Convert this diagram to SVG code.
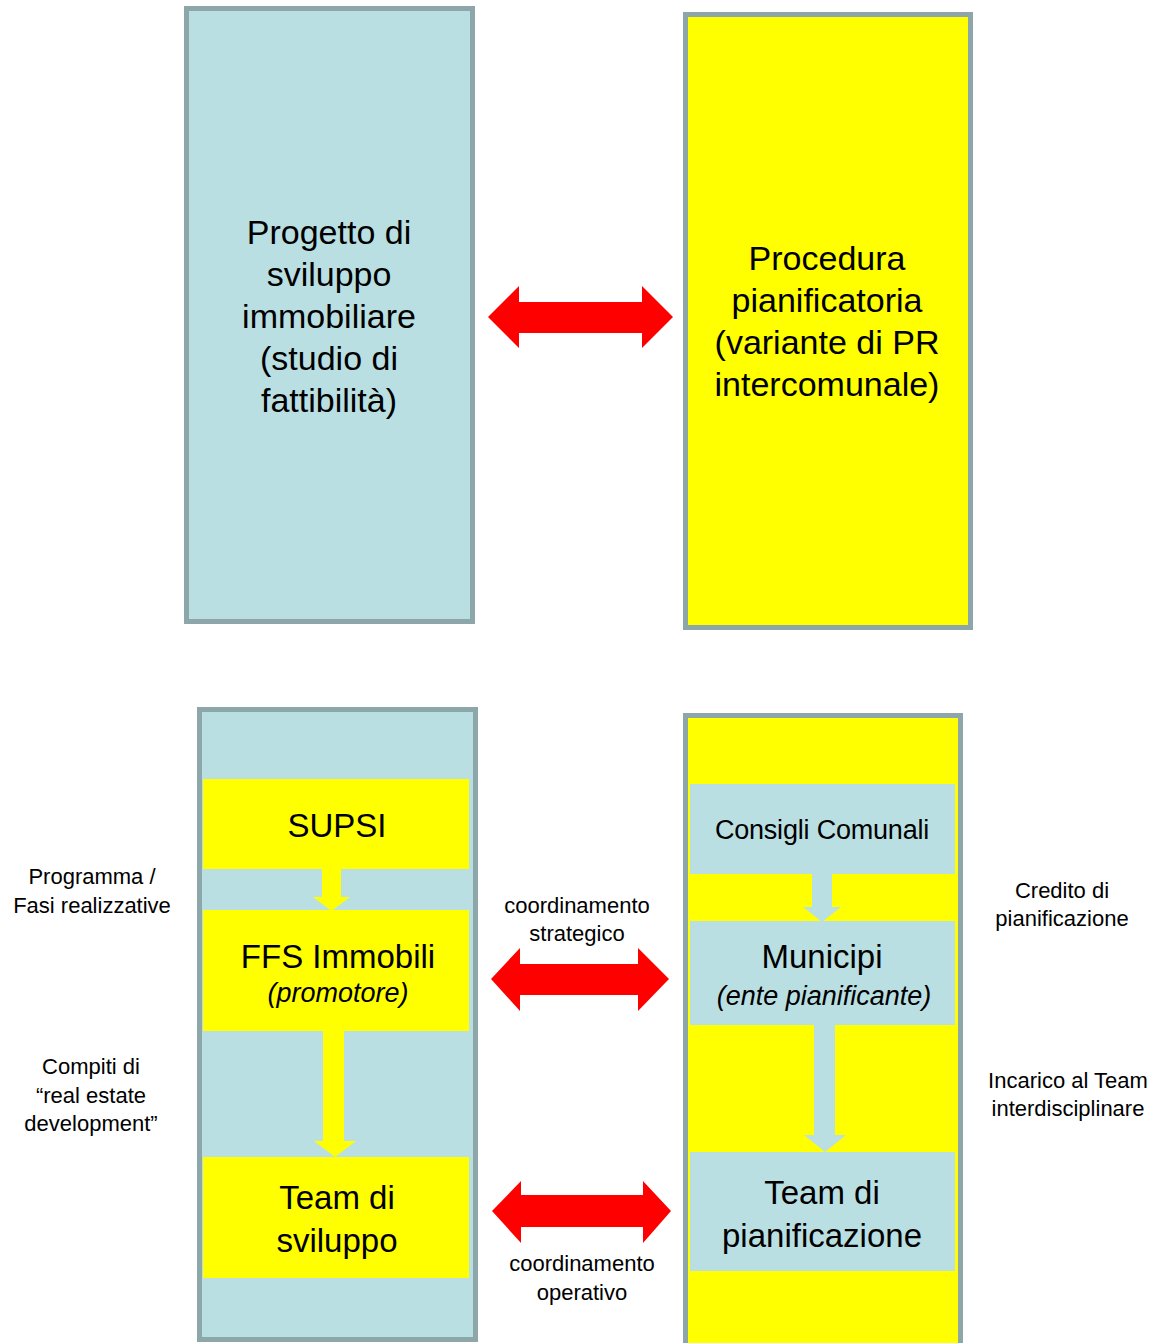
<svg xmlns="http://www.w3.org/2000/svg" width="1158" height="1343" viewBox="0 0 1158 1343">
<style>
.frame{stroke:#8DA6AA;stroke-width:5}
.blue{fill:#B9DFE2}
.yel{fill:#FFFF00}
.red{fill:#FF0000}
text{font-family:"Liberation Sans",Arial,sans-serif;fill:#000;text-anchor:middle}
.big{font-size:34px}
.mid{font-size:33px}
.sub{font-size:27px;font-style:italic}
.lab{font-size:22px}
</style>
<rect width="1158" height="1343" fill="#fff"/>
<g id="progetto">
<rect class="frame blue" x="186.5" y="8.5" width="286" height="613"/>
<text class="big" x="329" y="244">Progetto di</text>
<text class="big" x="329" y="286">sviluppo</text>
<text class="big" x="329" y="328">immobiliare</text>
<text class="big" x="329" y="370">(studio di</text>
<text class="big" x="329" y="412">fattibilità)</text>
</g>
<g id="procedura">
<rect class="frame yel" x="685.5" y="14.5" width="285" height="613"/>
<text class="big" x="827" y="270">Procedura</text>
<text class="big" x="827" y="312">pianificatoria</text>
<text class="big" x="827" y="354">(variante di PR</text>
<text class="big" x="827" y="396">intercomunale)</text>
</g>
<g id="promotore-col">
<rect class="frame blue" x="199.5" y="709.5" width="276" height="630"/>
</g>
<g id="ente-col">
<rect class="frame yel" x="685.5" y="715.5" width="275" height="640"/>
</g>
<g id="supsi">
<rect class="yel" x="203" y="779" width="266" height="90"/>
<text class="mid" x="337" y="837">SUPSI</text>
</g>
<g id="ffs">
<rect class="yel" x="203" y="910" width="266" height="121"/>
<text class="mid" x="338" y="968">FFS Immobili</text>
<text class="sub" x="338" y="1002">(promotore)</text>
</g>
<g id="team-sviluppo">
<rect class="yel" x="203" y="1157" width="266" height="121"/>
<text class="mid" x="337" y="1209">Team di</text>
<text class="mid" x="337" y="1252">sviluppo</text>
</g>
<g id="consigli">
<rect class="blue" x="690" y="784" width="265" height="90"/>
<text x="822" y="839" style="font-size:27px;letter-spacing:-0.2px">Consigli Comunali</text>
</g>
<g id="municipi">
<rect class="blue" x="690" y="921" width="265" height="104"/>
<text class="mid" x="822" y="968">Municipi</text>
<text class="sub" x="824" y="1005">(ente pianificante)</text>
</g>
<g id="team-pianificazione">
<rect class="blue" x="690" y="1152" width="265" height="119"/>
<text class="mid" x="822" y="1204">Team di</text>
<text class="mid" x="822" y="1247">pianificazione</text>
</g>
<g id="connectors">
<polygon class="red" points="488,317 519,286 519,302 642,302 642,286 673,317 642,348 642,333 519,333 519,348"/>
<polygon class="red" points="491,979 520,948 520,964 638,964 638,948 669,979 638,1011 638,995 520,995 520,1011"/>
<polygon class="red" points="492,1211 521,1181 521,1195 643,1195 643,1181 671,1211 643,1243 643,1227 521,1227 521,1243"/>
<polygon class="yel" points="322,869 341,869 341,897 350,897 331.5,911 313,897 322,897"/>
<polygon class="yel" points="323,1031 344,1031 344,1141 356,1141 335,1157 314,1141 323,1141"/>
<polygon class="blue" points="812,874 832,874 832,907 841,907 822,922 803,907 812,907"/>
<polygon class="blue" points="814,1025 835,1025 835,1135 846,1135 825,1152 804,1135 814,1135"/>
</g>
<g id="labels">
<text class="lab" x="92" y="884">Programma /</text>
<text class="lab" x="92" y="913">Fasi realizzative</text>
<text class="lab" x="91" y="1074">Compiti di</text>
<text class="lab" x="91" y="1103">“real estate</text>
<text class="lab" x="91" y="1131">development”</text>
<text class="lab" x="577" y="913">coordinamento</text>
<text class="lab" x="577" y="941">strategico</text>
<text class="lab" x="582" y="1271">coordinamento</text>
<text class="lab" x="582" y="1300">operativo</text>
<text class="lab" x="1062" y="898">Credito di</text>
<text class="lab" x="1062" y="926">pianificazione</text>
<text class="lab" x="1068" y="1088">Incarico al Team</text>
<text class="lab" x="1068" y="1116">interdisciplinare</text>
</g>
</svg>
